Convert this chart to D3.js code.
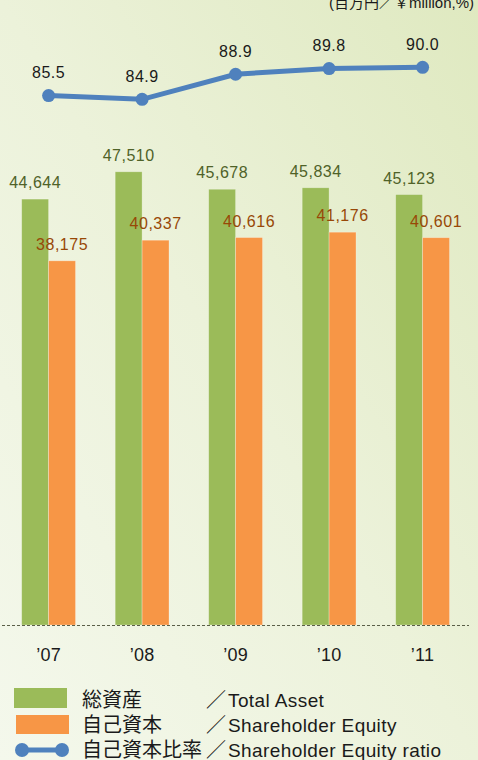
<!DOCTYPE html>
<html><head><meta charset="utf-8">
<script src="https://cdn.jsdelivr.net/npm/d3@7/dist/d3.min.js"></script>
<style>
html,body{margin:0;padding:0;overflow:hidden;}
svg{display:block;}
text{font-family:"Liberation Sans",Arial,"Noto Sans CJK JP",sans-serif;}
</style></head>
<body>
<script>
const years = ["’07","’08","’09","’10","’11"];
const totalAsset = [44644, 47510, 45678, 45834, 45123];
const equity = [38175, 40337, 40616, 41176, 40601];
const ratio = [85.5, 84.9, 88.9, 89.8, 90.0];
const ratioLabels = ["85.5","84.9","88.9","89.8","90.0"];
const legendJa = ["総資産","自己資本","自己資本比率"];
const legendEn = ["Total Asset","Shareholder Equity","Shareholder Equity ratio"];
const unitText = "(百万円／￥million,%)";

const W = 478, H = 760;
const svg = d3.select("body").append("svg").attr("width", W).attr("height", H);

const defs = svg.append("defs");
const g = defs.append("linearGradient").attr("id","bg")
  .attr("x1","0").attr("y1","1").attr("x2","1").attr("y2","0");
g.append("stop").attr("offset","0").attr("stop-color","#f4f8ec");
g.append("stop").attr("offset","0.5").attr("stop-color","#ecf2da");
g.append("stop").attr("offset","1").attr("stop-color","#dfe9c0");
svg.append("rect").attr("width",W).attr("height",H).attr("fill","url(#bg)");

const x = d3.scaleBand().domain(years).range([1.85, 469.35]).paddingInner(0.424).paddingOuter(0.212);
const y = d3.scaleLinear().domain([0, 50000]).range([625, 148]);
const yr = d3.scaleLinear().domain([80, 95]).range([130, 36]);

const bw = x.bandwidth()/2;

// bars
const grp = svg.append("g");
grp.selectAll(".ta").data(years).join("rect")
  .attr("x", d => x(d)).attr("width", bw)
  .attr("y", (d,i) => y(totalAsset[i])).attr("height", (d,i) => y(0) - y(totalAsset[i]))
  .attr("fill", "#9bbb59").attr("stroke","rgba(255,255,255,0.35)").attr("stroke-width",0.8);
grp.selectAll(".eq").data(years).join("rect")
  .attr("x", d => x(d) + bw).attr("width", bw)
  .attr("y", (d,i) => y(equity[i])).attr("height", (d,i) => y(0) - y(equity[i]))
  .attr("fill", "#f79646").attr("stroke","rgba(255,255,255,0.35)").attr("stroke-width",0.8);

// bar labels
const fmt = d3.format(",");
svg.selectAll(".tal").data(years).join("text")
  .attr("x", d => x(d) + bw/2).attr("y", (d,i) => y(totalAsset[i]) - 11)
  .attr("text-anchor","middle").attr("font-size",16).attr("letter-spacing","0.5px")
  .attr("fill","#4f6228").text((d,i) => fmt(totalAsset[i]));
svg.selectAll(".eql").data(years).join("text")
  .attr("x", d => x(d) + bw*1.5).attr("y", (d,i) => y(equity[i]) - 11)
  .attr("text-anchor","middle").attr("font-size",16).attr("letter-spacing","0.5px")
  .attr("fill","#984807").text((d,i) => fmt(equity[i]));

// baseline
svg.append("line").attr("x1",2).attr("x2",469).attr("y1",y(0)+0.5).attr("y2",y(0)+0.5)
  .attr("stroke","#5a5f48").attr("stroke-width",1).attr("stroke-dasharray","3,2");

// x axis labels
svg.selectAll(".xl").data(years).join("text")
  .attr("x", d => x(d) + x.bandwidth()/2).attr("y", 661)
  .attr("text-anchor","middle").attr("font-size",18).attr("letter-spacing","0.3px")
  .attr("fill","#1a1a1a").text(d => d);

// ratio line
const cx = d => x(d) + x.bandwidth()/2;
const line = d3.line().x((d,i) => cx(years[i])).y(d => yr(d));
svg.append("path").datum(ratio).attr("d", line).attr("fill","none")
  .attr("stroke","#4f81bd").attr("stroke-width",5);
svg.selectAll(".pt").data(ratio).join("circle")
  .attr("cx",(d,i) => cx(years[i])).attr("cy", d => yr(d)).attr("r",6.5).attr("fill","#4f81bd");
svg.selectAll(".rl").data(ratio).join("text")
  .attr("x",(d,i) => cx(years[i])).attr("y", d => yr(d) - 17.5)
  .attr("text-anchor","middle").attr("font-size",16).attr("letter-spacing","0.5px")
  .attr("fill","#1a1a1a").text((d,i) => ratioLabels[i]);

// unit text (clipped at top, as in the reference)
svg.append("text").attr("x",474).attr("y",8).attr("text-anchor","end")
  .attr("font-size",15).attr("fill","#1a1a1a").text(unitText);

// legend
const lg = svg.append("g");
lg.append("rect").attr("x",14).attr("y",688).attr("width",53).attr("height",20).attr("fill","#9bbb59");
lg.append("rect").attr("x",16).attr("y",715).attr("width",53).attr("height",19).attr("fill","#f79646");
lg.append("line").attr("x1",22).attr("x2",62).attr("y1",750).attr("y2",750).attr("stroke","#4f81bd").attr("stroke-width",5);
lg.append("circle").attr("cx",22).attr("cy",750).attr("r",7).attr("fill","#4f81bd");
lg.append("circle").attr("cx",62).attr("cy",750).attr("r",7).attr("fill","#4f81bd");
const baseY = [707, 732, 757];
lg.selectAll(".lj").data(legendJa).join("text")
  .attr("x",82).attr("y",(d,i)=>baseY[i]).attr("font-size",20)
  .attr("font-family","'Noto Sans CJK JP',sans-serif").attr("fill","#1a1a1a").text(d=>d);
lg.selectAll(".ls").data(legendEn).join("text")
  .attr("x",206).attr("y",(d,i)=>baseY[i]).attr("font-size",20)
  .attr("font-family","'Noto Sans CJK JP',sans-serif").attr("fill","#1a1a1a").text("／");
lg.selectAll(".le").data(legendEn).join("text")
  .attr("x",228).attr("y",(d,i)=>baseY[i]).attr("font-size",19).attr("letter-spacing","0.4px")
  .attr("fill","#1a1a1a").text(d=>d);
</script>
</body></html>
